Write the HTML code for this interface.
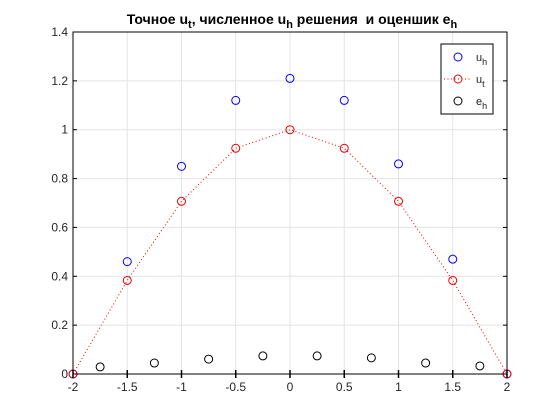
<!DOCTYPE html>
<html><head><meta charset="utf-8"><style>
body{margin:0;background:#fff;}
svg{display:block;font-family:"Liberation Sans",sans-serif;}
</style></head><body>
<svg id="chart" width="560" height="420" viewBox="0 0 560 420">
<rect width="560" height="420" fill="#fff"/>
<g id="grid"></g>
<g id="marks"></g>
<g id="axes"></g>
<text x="292" y="24" text-anchor="middle" font-size="14" font-weight="bold" fill="#000" xml:space="preserve">Точное u<tspan font-size="11" dy="4">t</tspan><tspan dy="-4">, численное u</tspan><tspan font-size="11" dy="4">h</tspan><tspan dy="-4"> решения  и оценшик e</tspan><tspan font-size="11" dy="4">h</tspan></text>
<g>
<rect x="441" y="44" width="52" height="70" fill="#fff" stroke="#000" stroke-width="1"/>
<circle cx="458" cy="57" r="4" fill="none" stroke="#0000ff"/>
<text x="476" y="61" font-size="11" fill="#222">u<tspan font-size="9" dy="4">h</tspan></text>
<line x1="444" y1="79" x2="472" y2="79" stroke="#e00" stroke-dasharray="1,2.5"/>
<circle cx="458" cy="79" r="4" fill="none" stroke="#e00"/>
<text x="476" y="83" font-size="11" fill="#222">u<tspan font-size="9" dy="4">t</tspan></text>
<circle cx="458" cy="101" r="4" fill="none" stroke="#000"/>
<text x="476" y="105" font-size="11" fill="#222">e<tspan font-size="9" dy="4">h</tspan></text>
</g>
</svg>
<script>
const xTicks=[-2,-1.5,-1,-0.5,0,0.5,1,1.5,2];
const xTickLabels=['-2','-1.5','-1','-0.5','0','0.5','1','1.5','2'];
const yTicks=[0,0.2,0.4,0.6,0.8,1,1.2,1.4];
const yTickLabels=['0','0.2','0.4','0.6','0.8','1','1.2','1.4'];
const xNodes=[-2,-1.5,-1,-0.5,0,0.5,1,1.5,2];
const uh=[0,0.46,0.85,1.12,1.21,1.12,0.86,0.47,0];
const ut=[0,0.383,0.707,0.924,1,0.924,0.707,0.383,0];
const xMid=[-1.75,-1.25,-0.75,-0.25,0.25,0.75,1.25,1.75];
const eh=[0.029,0.045,0.061,0.074,0.074,0.066,0.045,0.033];
const L=73,R=507,T=32,B=374;
const sx=v=>L+(v+2)/4*(R-L);
const sy=v=>B-v/1.4*(B-T);
const NS='http://www.w3.org/2000/svg';
function mk(tag,attrs,parent){const e=document.createElementNS(NS,tag);for(const k in attrs)e.setAttribute(k,attrs[k]);parent.appendChild(e);return e;}
const grid=document.getElementById('grid'),marks=document.getElementById('marks'),axes=document.getElementById('axes');
xTicks.forEach((t,i)=>{
 const g=mk('line',{x1:sx(t),x2:sx(t),y1:T,y2:B,stroke:'#e3e3e3'},grid);
 
 
 const tk=mk('line',{x1:sx(t),x2:sx(t),y1:B-4,y2:B+4,stroke:'#000','stroke-width':1.5},axes);
 
 
 const tl=mk('text',{x:sx(t),y:B+17,'text-anchor':'middle','font-size':12,fill:'#262626'},axes);
 tl.textContent=xTickLabels[i];
 
 
});
yTicks.forEach((t,i)=>{
 const g=mk('line',{x1:L,x2:R,y1:sy(t),y2:sy(t),stroke:'#e3e3e3'},grid);
 
 
 mk('line',{x1:L,x2:L+4,y1:sy(t),y2:sy(t),stroke:'#000'},axes);
 mk('line',{x1:R-4,x2:R,y1:sy(t),y2:sy(t),stroke:'#000'},axes);
 const tl=mk('text',{x:L-5,y:sy(t)+4,'text-anchor':'end','font-size':12,fill:'#262626'},axes);
 tl.textContent=yTickLabels[i];
 
 
});
const frame=mk('rect',{x:L,y:T,width:R-L,height:B-T,fill:'none',stroke:'#000'},axes);


const line=mk('polyline',{points:xNodes.map((x,i)=>sx(x)+','+sy(ut[i])).join(' '),fill:'none',stroke:'#e00','stroke-dasharray':'1,2.5'},marks);


xNodes.forEach((x,i)=>{
 const c=mk('circle',{cx:sx(x),cy:sy(uh[i]),r:4,fill:'none',stroke:'#0000ff'},marks);
 
 
 const d=mk('circle',{cx:sx(x),cy:sy(ut[i]),r:4,fill:'none',stroke:'#e00'},marks);
 
 
});
xMid.forEach((x,i)=>{
 const c=mk('circle',{cx:sx(x),cy:sy(eh[i]),r:4,fill:'none',stroke:'#000'},marks);
 
 
});
</script>
</body></html>
